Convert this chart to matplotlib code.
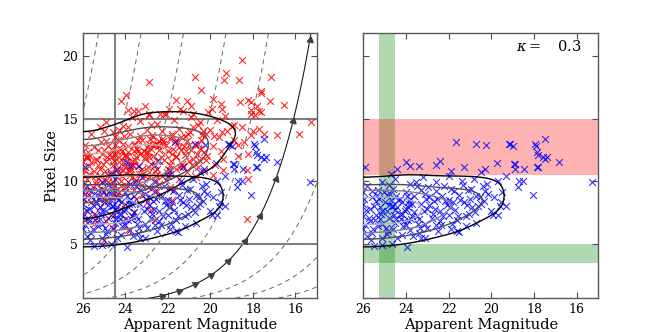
import numpy as np
import matplotlib
matplotlib.use("Agg")
import matplotlib.pyplot as plt

plt.rcParams['font.family'] = ['DejaVu Serif']
plt.rcParams['mathtext.fontset'] = 'dejavuserif'

# red sample (magnitude, pixel size)
red_mag = [
    18.54, 19.27, 19.35, 18.65, 20.74, 22.9, 23.98, 24.2, 20.43, 17.16, 17.6, 17.6, 17.2, 16.54, 18.6,
    18.25, 18.07, 17.8, 17.7, 17.9, 17.6, 18.1, 18.1, 19.5, 19.47, 19.87, 19.94, 23.9, 23.6, 23.4,
    23.06, 22.9, 22.36, 22.18, 21.6, 21.1, 20.9, 20.8, 21.45, 21.95, 15.84, 15.25, 18.3, 18.22, 18.3,
    18.25, 18.07, 17.49, 16.86, 17.7, 18.0, 18.5, 18.7, 18.7, 19.0, 18.4,
    25.6, 25.2, 24.6, 24.1, 23.7, 23.3, 22.9, 22.5, 22.1, 21.7, 21.3, 20.9, 20.5, 20.1, 19.7, 19.3, 18.9,
    23.2, 22.6, 21.8, 24.9, 24.5, 24.1, 23.8, 23.4, 23.0, 22.7, 22.3, 21.9, 21.5, 21.2, 20.8, 20.4, 20.0,
    19.6, 19.2, 18.9, 22.5, 21.0, 24.3, 25.0,
    26.0, 25.8, 25.5, 25.1, 24.8, 24.5, 24.2, 23.9, 23.6, 23.3, 23.0, 22.7, 22.4, 22.1, 21.8, 21.5, 21.2,
    20.9, 20.6, 20.3, 19.9, 19.5, 19.1, 25.3, 24.0, 22.9, 21.6,
    26.0, 25.7, 25.4, 25.2, 24.9, 24.6, 24.3, 24.0, 23.7, 23.4, 23.1, 22.8, 22.5, 22.2, 21.9, 21.6, 21.3,
    21.0, 20.6, 20.2, 19.8, 19.4, 25.8, 24.7, 23.9, 23.2, 22.0,
    26.0, 25.8, 25.5, 25.2, 24.9, 24.7, 24.4, 24.1, 23.8, 23.5, 23.2, 22.9, 22.6, 22.3, 21.9, 21.5, 21.1,
    20.7, 20.3, 19.9, 25.4, 24.2, 23.0, 19.4,
    26.0, 25.7, 25.4, 25.1, 24.8, 24.5, 24.2, 23.9, 23.6, 23.2, 22.8, 22.4, 21.9, 24.6, 23.9, 25.9, 24.9,
    26.0, 25.6, 25.2, 24.8, 24.4, 24.0, 23.5, 23.0, 22.4, 21.8, 24.6,
    25.8, 25.2, 24.7, 24.2, 23.6, 22.8, 21.9, 25.4,
    25.5, 24.6, 23.9, 22.6, 25.0, 25.9,
    25.9, 25.6, 25.3, 25.0, 24.8, 24.5, 24.3, 24.1, 23.9, 23.7, 23.5, 23.3, 23.1, 22.9, 22.7, 22.5, 22.3,
    22.1, 21.8, 21.6, 21.4, 21.1, 20.8, 20.5, 20.2, 25.7, 25.1, 24.6, 24.0, 23.4, 22.6, 22.0, 24.4, 23.6,
    22.4, 24.9, 23.9, 22.8, 21.4, 20.6,
    25.95, 25.75, 25.55, 25.35, 25.15, 24.95, 24.75, 24.55, 24.35, 24.15, 23.95, 23.75, 23.55, 23.35,
    23.15, 22.95, 22.75, 22.55, 22.35, 22.15, 21.95, 21.75, 21.55, 21.35, 21.15, 20.95, 20.75, 20.55,
    20.35, 20.15,
    25.85, 25.45, 25.05, 24.65, 24.25, 23.85, 23.45, 23.05, 22.65, 22.25, 21.85, 21.45, 21.05, 20.65,
    25.65, 22.25, 24.85, 24.45, 24.05, 23.65, 23.25, 22.85, 22.45, 22.05, 21.65, 21.25, 20.85, 20.45,
    19.85, 19.45,
    25.7, 25.0, 24.3, 23.7, 23.2, 22.5, 21.7, 24.9, 25.5, 24.0,
    24.3, 24.0, 23.7, 23.4, 23.1, 22.8, 24.15, 23.55, 22.95, 23.85,
]
red_size = [
    19.7, 18.6, 18.1, 18.1, 18.3, 17.9, 16.9, 16.4, 17.3, 18.3, 17.2, 17.0, 16.4, 16.1, 16.3,
    16.5, 16.3, 16.0, 15.6, 15.3, 15.5, 15.4, 15.7, 16.2, 15.8, 16.6, 15.8, 15.7, 15.6, 15.6,
    16.0, 15.4, 15.4, 15.35, 16.5, 16.4, 16.0, 15.4, 15.8, 15.8, 13.8, 14.7, 7.0, 10.15, 10.9,
    12.2, 13.7, 13.76, 13.7, 14.2, 14.0, 14.3, 12.9, 12.0, 14.4, 13.1,
    13.8, 14.3, 13.9, 14.4, 15.1, 14.8, 15.3, 14.6, 15.4, 14.9, 15.6, 15.1, 14.7, 15.5, 14.9, 15.2, 14.5,
    13.3, 13.0, 13.6, 13.2, 13.5, 13.0, 13.8, 13.3, 14.1, 13.5, 14.0, 13.4, 14.2, 13.6, 14.3, 13.7, 14.1,
    13.5, 14.0, 13.3, 13.0, 12.9, 14.1, 14.0,
    12.4, 12.0, 12.7, 12.2, 12.8, 12.1, 12.6, 12.3, 12.9, 12.2, 12.7, 12.0, 12.5, 12.9, 12.2, 12.7, 12.1,
    12.5, 13.0, 12.3, 12.8, 12.4, 12.9, 12.5, 12.0, 13.0, 12.0,
    11.5, 11.2, 11.8, 11.0, 11.6, 11.3, 11.9, 11.1, 11.6, 11.2, 11.8, 11.4, 11.0, 11.7, 11.3, 11.9, 11.2,
    11.6, 11.1, 11.7, 11.3, 11.8, 11.9, 11.9, 11.5, 11.0, 11.0,
    10.6, 10.2, 10.8, 10.4, 10.1, 10.7, 10.3, 10.9, 10.5, 10.1, 10.7, 10.3, 10.8, 10.4, 10.6, 10.2, 10.7,
    10.3, 10.8, 10.5, 10.0, 10.0, 10.9, 10.9,
    9.7, 9.3, 9.8, 9.4, 9.9, 9.2, 9.6, 9.9, 9.3, 9.7, 9.4, 9.8, 9.5, 9.9, 9.6, 9.0, 9.0,
    8.6, 8.3, 8.8, 8.4, 8.7, 8.2, 8.6, 8.3, 8.8, 8.5, 8.9,
    7.6, 7.9, 7.3, 7.8, 7.5, 7.7, 7.9, 7.1,
    6.6, 6.3, 6.1, 6.9, 5.3, 6.9,
    12.9, 11.5, 11.3, 12.5, 10.5, 12.9, 10.6, 11.5, 12.8, 10.3, 11.9, 13.6, 10.4, 11.9, 12.9, 11.6, 13.4,
    10.1, 13.8, 11.0, 12.5, 13.2, 11.8, 12.6, 13.8, 10.6, 9.9, 9.6, 9.5, 9.9, 10.1, 12.4, 12.4, 12.4,
    13.2, 14.7, 14.3, 14.5, 13.5, 14.5,
    10.9, 12.3, 9.5, 11.7, 13.1, 10.8, 12.2, 11.6, 13.3, 10.4, 12.0, 11.0, 13.0, 10.6,
    12.4, 11.1, 13.7, 10.5, 11.9, 12.2, 10.9, 12.6, 13.1, 11.4, 12.4, 13.9, 12.9, 11.7,
    14.0, 12.0,
    11.9, 10.4, 11.4, 12.5, 11.0, 10.8, 12.6, 12.3, 11.2, 13.2, 11.6, 11.1, 13.8, 12.2,
    12.0, 13.0, 11.9, 10.9, 13.6, 11.3, 10.6, 13.4, 12.8, 10.7, 13.2, 12.8, 11.3, 13.3,
    13.6, 13.9,
    8.9, 8.6, 9.1, 7.2, 8.9, 9.2, 9.3, 6.8, 7.4, 7.0,
    11.5, 12.1, 11.3, 12.4, 11.9, 12.6, 12.4, 11.7, 12.3, 11.0,
]

# blue sample (magnitude, pixel size)
blue_mag = [
    15.3, 16.85, 17.47, 17.91, 17.8, 17.6, 17.47, 17.83, 18.46, 18.88, 18.9, 18.5, 18.7, 18.77, 18.07,
    19.16, 19.0, 19.94, 19.7, 19.3, 21.53, 23.95, 25.5, 25.1, 23.3, 23.1, 24.42, 24.67, 25.92, 23.99,
    23.37, 22.4, 21.66, 20.74, 20.27, 19.13, 19.76, 18.95, 17.96, 17.88, 17.4, 17.85, 19.53, 21.63,
    24.7, 24.4, 23.8, 22.6, 21.3, 20.3,
    25.8, 25.1, 24.5, 23.8, 23.2, 22.6, 22.0, 21.4, 20.8, 20.2, 19.7, 19.3, 21.9, 20.5,
    26.0, 25.6, 25.3, 24.9, 24.6, 24.3, 24.0, 23.6, 23.3, 22.9, 22.6, 22.3, 21.9, 21.5, 21.1, 20.7, 20.3,
    19.9, 19.5, 22.0,
    26.0, 25.7, 25.4, 25.1, 24.8, 24.5, 24.2, 23.9, 23.6, 23.3, 23.0, 22.7, 22.4, 22.1, 21.7, 21.3, 20.9,
    20.5, 20.0, 19.6, 24.7, 23.8, 21.8,
    26.0, 25.7, 25.4, 25.1, 24.8, 24.5, 24.2, 23.9, 23.5, 23.1, 22.8, 22.4, 22.0, 21.6, 21.2, 20.7, 25.9,
    24.0,
    26.0, 25.6, 25.3, 24.9, 24.6, 24.2, 23.8, 23.4, 23.0, 22.5, 21.9, 21.2, 25.8, 25.1,
    25.5, 25.0, 24.4, 23.7, 23.4, 22.9, 22.6, 22.2, 25.2, 24.1, 23.1, 21.0, 20.4, 25.6, 24.8, 23.5,
    25.95, 25.75, 25.55, 25.35, 25.15, 24.95, 24.75, 24.55, 24.35, 24.15, 23.95, 23.75, 23.55, 23.35,
    23.15, 22.95, 22.75, 22.55, 22.35, 22.15, 21.95, 21.75, 21.55, 21.35, 21.15, 20.95, 20.75, 20.55,
    20.35, 20.15,
    25.85, 25.45, 25.05, 24.65, 24.25, 23.85, 23.45, 23.05, 22.65, 22.25, 21.85, 21.45, 21.05, 20.65,
    25.65, 25.25, 24.85, 24.45, 24.05, 23.65,
    24.9, 24.6, 24.3, 24.0, 23.7, 25.2, 24.45, 23.85,
]
blue_size = [
    9.96, 11.5, 13.4, 12.8, 12.1, 11.9, 11.8, 11.15, 11.0, 11.4, 11.0, 10.0, 10.0, 9.56, 8.9,
    13.0, 12.8, 7.3, 7.3, 8.0, 5.93, 4.78, 4.8, 4.9, 5.45, 5.45, 5.5, 5.0, 11.15, 11.55,
    11.2, 11.6, 13.1, 12.96, 12.9, 13.0, 11.45, 11.4, 13.0, 12.3, 11.9, 11.15, 8.3, 6.0,
    10.6, 11.0, 11.2, 11.3, 11.1, 11.0,
    9.6, 9.9, 10.2, 9.8, 10.3, 9.9, 10.4, 10.0, 10.2, 9.8, 10.0, 10.4, 10.8, 10.7,
    9.1, 8.7, 9.3, 8.9, 9.4, 8.6, 9.1, 8.8, 9.3, 8.7, 9.2, 8.8, 9.4, 8.9, 9.3, 8.8, 9.2,
    8.7, 9.1, 8.5,
    8.2, 7.8, 8.4, 7.6, 8.1, 7.7, 8.3, 7.9, 7.5, 8.2, 7.8, 8.4, 7.6, 8.1, 7.7, 8.3, 7.9,
    8.2, 7.6, 8.0, 8.5, 8.6, 8.3,
    7.2, 6.8, 7.3, 6.6, 7.1, 6.7, 7.4, 6.9, 7.2, 6.6, 7.1, 6.8, 7.3, 6.9, 7.2, 6.7, 6.5,
    6.5,
    6.2, 5.9, 6.4, 5.8, 6.2, 5.7, 6.1, 5.9, 6.3, 6.0, 6.2, 6.4, 5.6, 5.5,
    8.0, 8.3, 7.9, 8.2, 7.0, 8.1, 6.5, 9.6, 7.0, 6.8, 9.0, 8.6, 9.6, 9.2, 9.7, 9.6,
    8.6, 7.1, 6.2, 8.9, 7.4, 6.3, 9.0, 7.3, 8.5, 6.4, 8.8, 7.0, 9.9, 6.3,
    7.6, 9.5, 7.4, 8.6, 6.5, 8.4, 7.9, 9.2, 7.2, 9.7, 8.1, 9.4, 7.5, 8.7,
    8.4, 9.0,
    7.7, 6.9, 9.1, 8.0, 7.0, 8.2, 6.6, 8.6, 7.8, 7.2, 6.6, 8.5, 7.4, 8.0,
    5.3, 8.6, 6.0, 8.8, 7.6, 5.6,
    7.6, 8.0, 7.4, 7.8, 7.2, 7.9, 7.0, 8.4,
]

# size-magnitude track with arrows, and the dashed family of the same shape
track_m0 = 15.33
track_top = 21.24
arrow_mags = [22.26, 21.48, 20.73, 19.96, 19.16, 18.38, 17.68, 16.93, 16.11, 15.33]
dashed_m0 = [25.33, 23.33, 21.33, 19.33, 17.33, 13.33, 11.33, 9.33]

mag_cut = 24.5
size_lo, size_hi = 5, 15
kappa = 0.3

xlim = (26, 15)
ylim = (0.65, 21.8)


def track(m, m0):
    return track_top * 10 ** (-0.2 * (np.asarray(m) - m0))


def kde(mx, sy, gx, gy, bw=(0.9, 0.9), edge=26.0):
    mx = np.asarray(mx)
    sy = np.asarray(sy)
    z = np.zeros((len(gy), len(gx)))
    ey = np.exp(-0.5 * ((gy[None, :] - sy[:, None]) / bw[1]) ** 2)
    for m in (mx, 2 * edge - mx):
        ex = np.exp(-0.5 * ((gx[None, :] - m[:, None]) / bw[0]) ** 2)
        z += ey.T @ ex
    return z / z.max()


gx = np.linspace(14, 28, 220)
gy = np.linspace(0, 22, 220)
z_red = kde(red_mag, red_size, gx, gy)
z_blue = kde(blue_mag, blue_size, gx, gy)
levels_red = [0.29, 0.47, 0.65, 0.85]
levels_blue = [0.3, 0.5, 0.67, 0.85]
lcols = ['k', '0.3', '0.5', '0.7']

fig = plt.figure(figsize=(6.64, 3.32), dpi=100)
ax1 = fig.add_axes([0.125, 0.1015, 0.352, 0.798])
ax2 = fig.add_axes([0.547, 0.1015, 0.354, 0.798])

for ax in (ax1, ax2):
    ax.set_xlim(*xlim)
    ax.set_ylim(*ylim)
    ax.set_xticks([26, 24, 22, 20, 18, 16])
    ax.set_yticks([5, 10, 15, 20])
    ax.tick_params(direction='in', top=True, right=True, length=4, width=0.8,
                   color='0.3', labelsize=9)
    for s in ax.spines.values():
        s.set_color('0.35')
        s.set_linewidth(1.0)
    ax.set_xlabel('Apparent Magnitude', fontsize=10.5, labelpad=1)

# left panel
mm = np.linspace(15, 26, 300)
for m0 in dashed_m0:
    ax1.plot(mm, track(mm, m0), ls='--', dashes=(5, 4), color='0.4', lw=0.7)
ax1.plot(mm, track(mm, track_m0), color='0.1', lw=0.8)

ax1.axvline(mag_cut, color='0.5', lw=1.5)
ax1.axhline(size_lo, color='0.5', lw=1.5)
ax1.axhline(size_hi, color='0.5', lw=1.5)

ax1.scatter(red_mag, red_size, marker='x', s=24, c='red', lw=0.8, alpha=0.85, zorder=3)
ax1.scatter(blue_mag, blue_size, marker='x', s=24, c='blue', lw=0.8, alpha=0.8, zorder=3)
ax1.contour(gx, gy, z_red, levels=levels_red, colors=lcols, linewidths=1.0, zorder=4)
ax1.contour(gx, gy, z_blue, levels=levels_blue, colors=lcols, linewidths=1.0, zorder=4)
ax1.set_ylabel('Pixel Size', fontsize=10.5, labelpad=2)

# arrow heads along the track, oriented with the curve on screen
fig.canvas.draw()
am = np.array(arrow_mags)
p0 = ax1.transData.transform(np.column_stack([am + 0.05, track(am + 0.05, track_m0)]))
p1 = ax1.transData.transform(np.column_stack([am - 0.05, track(am - 0.05, track_m0)]))
ang = np.degrees(np.arctan2(p1[:, 1] - p0[:, 1], p1[:, 0] - p0[:, 0]))
for m, a in zip(am, ang):
    ax1.plot([m], [track(m, track_m0)], marker=(3, 0, a - 90), ms=5,
             color='0.25', ls='none', zorder=5, clip_on=False)

# right panel
ax2.axvspan(25.25, mag_cut, color='green', alpha=0.3, lw=0)
ax2.axhspan(3.5, size_lo, color='green', alpha=0.3, lw=0)
ax2.axhspan(10.5, size_hi, color='red', alpha=0.3, lw=0)
ax2.scatter(blue_mag, blue_size, marker='x', s=24, c='blue', lw=0.8, alpha=0.8, zorder=3)
ax2.contour(gx, gy, z_blue, levels=levels_blue, colors=lcols, linewidths=1.0, zorder=4)
ax2.set_yticklabels([])
ax2.text(0.93, 0.95, r'$\kappa=$   ' + f'{kappa}', transform=ax2.transAxes,
         ha='right', va='center', fontsize=10.5)

fig.savefig('out.png', dpi=100)
